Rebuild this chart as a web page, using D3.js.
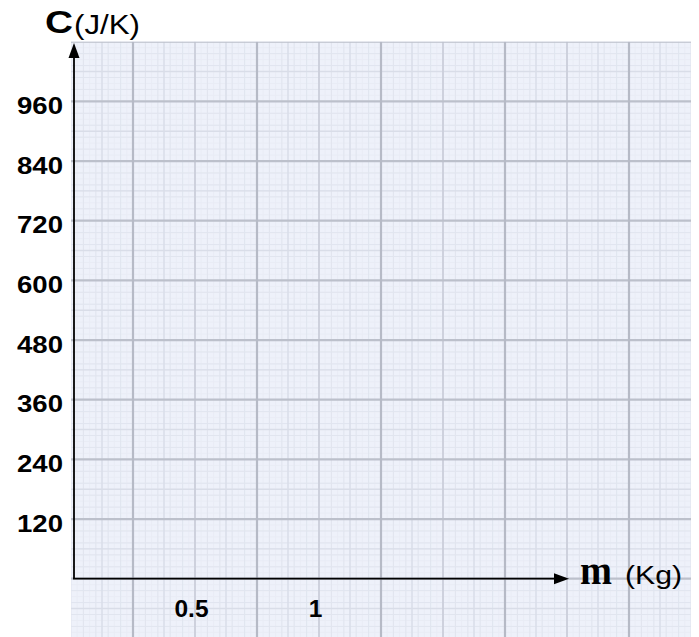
<!DOCTYPE html>
<html>
<head>
<meta charset="utf-8">
<script src="https://cdn.jsdelivr.net/npm/d3@7/dist/d3.min.js"></script>
<style>
  html, body { margin: 0; padding: 0; background: #fff; }
  svg { display: block; }
</style>
</head>
<body>
<svg id="chart" width="699" height="637"></svg>
<script>
// ---- data ----
const yTicks = [120, 240, 360, 480, 600, 720, 840, 960];
const xTicks = [0.5, 1];
const yLabel = "C";
const yUnit = "(J/K)";
const xLabel = "m";
const xUnit = "(Kg)";

const svg = d3.select("#chart");
const W = 699, H = 637;

// scales
const x = d3.scaleLinear().domain([0, 2.5]).range([71, 691]);
const y = d3.scaleLinear().domain([0, 1080]).range([578.7, 41.7]);

const gridLeft = x(0), gridRight = x(2.5), gridTop = y(1080), gridBottom = H;

// ---- graph paper background ----
const defs = svg.append("defs");
defs.append("clipPath").attr("id", "gclip")
  .append("rect").attr("x", gridLeft).attr("y", gridTop)
  .attr("width", gridRight - gridLeft).attr("height", gridBottom - gridTop);

const grid = svg.append("g").attr("clip-path", "url(#gclip)");
grid.append("rect").attr("x", gridLeft).attr("y", gridTop)
  .attr("width", gridRight - gridLeft).attr("height", gridBottom - gridTop)
  .attr("fill", "#eef1fa");

const eps = 1e-6;
// vertical lines
const vFine = d3.range(0, 2.5 + eps, 0.025);
const vMinor = d3.range(0, 2.5 + eps, 0.05);
const vHalf = d3.range(0.125, 2.5, 0.25);
const vMed = d3.range(0.5, 2.5, 0.5);
const vDark = d3.range(0.25, 2.5, 0.5);
// horizontal lines
const hFine = d3.range(-120, 1080 + eps, 12);
const hMinor = d3.range(-120, 1080 + eps, 24);
const hHalf = d3.range(-60, 1080, 120);
const hMajor = d3.range(-120, 1080 + eps, 120);

function vlines(vals, color, w) {
  grid.append("g").selectAll("line").data(vals).join("line")
    .attr("x1", d => x(d)).attr("x2", d => x(d))
    .attr("y1", gridTop).attr("y2", gridBottom)
    .attr("stroke", color).attr("stroke-width", w);
}
function hlines(vals, color, w) {
  grid.append("g").selectAll("line").data(vals).join("line")
    .attr("y1", d => y(d)).attr("y2", d => y(d))
    .attr("x1", gridLeft).attr("x2", gridRight)
    .attr("stroke", color).attr("stroke-width", w);
}
vlines(vFine, "#e9ecf5", 1);
hlines(hFine, "#e9ecf5", 1);
vlines(vMinor, "#e1e5ef", 1);
hlines(hMinor, "#e1e5ef", 1);
vlines(vHalf, "#d9dde8", 1.4);
hlines(hHalf, "#d9dde8", 1.4);
vlines(vMed, "#cbcfdb", 1.8);
hlines(hMajor, "#bcc0cb", 2.2);
vlines(vDark, "#b6bac6", 2.2);

// ---- axes ----
const axisX0 = 74;
const arrowTopY = 43;
const arrowRightX = 569;

svg.append("line")
  .attr("x1", axisX0).attr("x2", axisX0)
  .attr("y1", y(0)).attr("y2", arrowTopY + 12)
  .attr("stroke", "#000").attr("stroke-width", 1.8);
svg.append("path")
  .attr("d", `M${axisX0},${arrowTopY} L${axisX0 - 5.5},${arrowTopY + 15} L${axisX0 + 5.5},${arrowTopY + 15} Z`)
  .attr("fill", "#000");

svg.append("line")
  .attr("x1", axisX0 - 1).attr("x2", arrowRightX - 12)
  .attr("y1", y(0)).attr("y2", y(0))
  .attr("stroke", "#000").attr("stroke-width", 1.8);
svg.append("path")
  .attr("d", `M${arrowRightX},${y(0)} L${arrowRightX - 15},${y(0) - 5.5} L${arrowRightX - 15},${y(0) + 5.5} Z`)
  .attr("fill", "#000");

// y tick labels
const yAxis = d3.axisLeft(y).tickValues(yTicks).tickSize(0).tickPadding(11);
const gy = svg.append("g").attr("transform", `translate(${axisX0},0)`).call(yAxis);
gy.select(".domain").remove();
gy.selectAll("text")
  .attr("font-family", "'Liberation Sans', Arial, sans-serif")
  .attr("font-weight", "bold").attr("font-size", 24.5)
  .attr("fill", "#000")
  .attr("dy", "0.5em")
  .attr("textLength", 46).attr("lengthAdjust", "spacingAndGlyphs");

// x tick labels
const xAxis = d3.axisBottom(x).tickValues(xTicks).tickSize(0).tickPadding(0)
  .tickFormat(d3.format(""));
const gx = svg.append("g").attr("transform", `translate(0,${y(0)})`).call(xAxis);
gx.select(".domain").remove();
gx.selectAll("text")
  .attr("font-family", "'Liberation Sans', Arial, sans-serif")
  .attr("font-weight", "bold").attr("font-size", 24.5)
  .attr("fill", "#000")
  .attr("y", 0).attr("dy", 38)
  .attr("dx", -4);

// axis titles
svg.append("text")
  .attr("x", 45).attr("y", 33)
  .attr("font-family", "'Liberation Sans', Arial, sans-serif")
  .attr("font-weight", "bold").attr("font-size", 32)
  .attr("textLength", 28).attr("lengthAdjust", "spacingAndGlyphs")
  .attr("fill", "#000").text(yLabel);
svg.append("text")
  .attr("x", 74).attr("y", 34)
  .attr("font-family", "'Liberation Sans', Arial, sans-serif")
  .attr("font-size", 27)
  .attr("textLength", 66).attr("lengthAdjust", "spacingAndGlyphs")
  .attr("fill", "#000").text(yUnit);

svg.append("text")
  .attr("x", 580).attr("y", 584)
  .attr("font-family", "'Liberation Serif', 'Times New Roman', serif")
  .attr("font-weight", "bold").attr("font-size", 39)
  .attr("textLength", 32).attr("lengthAdjust", "spacingAndGlyphs")
  .attr("fill", "#000").text(xLabel);
svg.append("text")
  .attr("x", 625).attr("y", 584)
  .attr("font-family", "'Liberation Sans', Arial, sans-serif")
  .attr("font-size", 25)
  .attr("textLength", 57).attr("lengthAdjust", "spacingAndGlyphs")
  .attr("fill", "#000").text(xUnit);
</script>
</body>
</html>
